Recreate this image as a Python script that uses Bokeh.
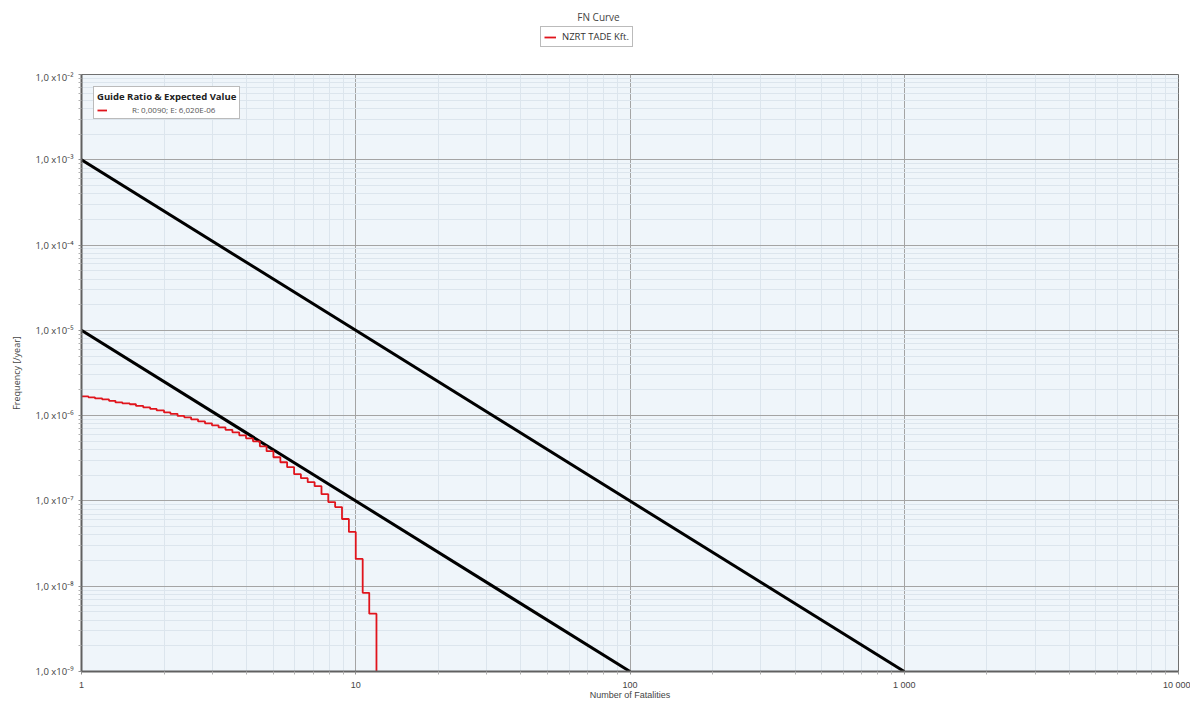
from bokeh.plotting import figure
from bokeh.layouts import column
from bokeh.models import FixedTicker, Legend, LegendItem, Range1d, Label
from bokeh.embed import file_html
from bokeh.resources import INLINE

# FN curve (step function): number of fatalities N and frequency of >= N fatalities per year
fatalities = [1.00, 1.06, 1.12, 1.19, 1.26, 1.33, 1.41, 1.50, 1.58, 1.68,
              1.78, 1.88, 2.00, 2.11, 2.24, 2.37, 2.51, 2.66, 2.82, 2.99,
              3.16, 3.35, 3.55, 3.76, 3.98, 4.22, 4.47, 4.73, 5.01, 5.31,
              5.62, 5.96, 6.31, 6.68, 7.08, 7.50, 7.94, 8.41, 8.91, 9.44,
              10.0, 10.6, 11.2, 11.9]
frequency = [1.68e-6, 1.64e-6, 1.59e-6, 1.55e-6, 1.49e-6, 1.43e-6, 1.39e-6, 1.36e-6, 1.30e-6, 1.25e-6,
             1.20e-6, 1.15e-6, 1.09e-6, 1.05e-6, 9.93e-7, 9.55e-7, 9.05e-7, 8.57e-7, 8.12e-7, 7.69e-7,
             7.29e-7, 6.82e-7, 6.38e-7, 5.88e-7, 5.42e-7, 5.00e-7, 4.37e-7, 3.83e-7, 3.25e-7, 2.84e-7,
             2.49e-7, 2.06e-7, 1.85e-7, 1.66e-7, 1.49e-7, 1.20e-7, 9.70e-8, 8.48e-8, 6.14e-8, 4.33e-8,
             2.09e-8, 8.37e-9, 4.76e-9, 1e-12]

# Guide lines
upper_guide_n = [1, 1000]
upper_guide_f = [1e-3, 1e-9]
lower_guide_n = [1, 100]
lower_guide_f = [1e-5, 1e-9]

x_ticks = [1, 10, 100, 1000, 10000]
x_tick_labels = ["1", "10", "100\nNumber of Fatalities", "1 000", "10 000"]
y_ticks = [1e-9, 1e-8, 1e-7, 1e-6, 1e-5, 1e-4, 1e-3, 1e-2]
y_tick_labels = ["1,0 x10\u207b\u2079", "1,0 x10\u207b\u2078", "1,0 x10\u207b\u2077", "1,0 x10\u207b\u2076",
                 "1,0 x10\u207b\u2075", "1,0 x10\u207b\u2074", "1,0 x10\u207b\u00b3", "1,0 x10\u207b\u00b2"]

chart_title = "FN Curve"
series_name = "NZRT TADE Kft."
legend_title = "Guide Ratio & Expected Value"
legend_entry = "R: 0,0090; E: 6,020E-06"

FONT = "Open Sans"
XFONT = "Liberation Sans"
RED = "#e0141c"
HEADER_H = 70
LEFT = 81
RIGHT = 12
WIDTH = 1190

# ---------- header: title + series legend (frame aligned with the chart's frame) ----------
header = figure(width=WIDTH, height=HEADER_H, x_range=Range1d(LEFT, WIDTH - RIGHT), y_range=Range1d(0, HEADER_H),
                output_backend="svg", toolbar_location=None,
                x_axis_location=None, y_axis_location=None,
                min_border=0, min_border_left=LEFT, min_border_right=RIGHT,
                outline_line_color=None,
                background_fill_color="white", border_fill_color="white")
header.xgrid.visible = False
header.ygrid.visible = False
# same series, lies outside the header's window, only provides the legend glyph
header_line = header.step(fatalities, frequency, mode="after", line_color=RED, line_width=1.8)
header.add_layout(Label(x=598, y=HEADER_H - 16, text=chart_title, text_align="center",
                        text_baseline="middle", text_font=FONT, text_font_size="10px",
                        text_color="#444444"))
top_legend = Legend(items=[LegendItem(label=series_name, renderers=[header_line])],
                    orientation="horizontal", location=(540 - LEFT, HEADER_H - 47),
                    border_line_color="#777777", border_line_width=1,
                    background_fill_color="white", padding=3, margin=0,
                    label_text_font=FONT, label_text_font_size="9.5px", label_text_color="#333333",
                    glyph_width=12, glyph_height=10, label_standoff=6, label_height=12)
header.add_layout(top_legend)

# ---------- main chart ----------
p = figure(width=WIDTH, height=702 - HEADER_H, x_axis_type="log", y_axis_type="log",
           x_range=Range1d(1, 10000), y_range=Range1d(1e-9, 1e-2),
           output_backend="svg", toolbar_location=None,
           min_border_left=LEFT, min_border_right=RIGHT, min_border_top=74 - HEADER_H, min_border_bottom=20,
           background_fill_color="#eff5fa", border_fill_color="white",
           outline_line_color="#707070", outline_line_width=1)

minor_x = [m * 10 ** e for e in range(0, 4) for m in range(2, 10)]
minor_y = [m * 10.0 ** e for e in range(-9, -2) for m in range(2, 10)]

p.xaxis.ticker = FixedTicker(ticks=x_ticks, minor_ticks=minor_x)
p.yaxis.ticker = FixedTicker(ticks=y_ticks, minor_ticks=minor_y)
p.xaxis.major_label_overrides = {t: l for t, l in zip(x_ticks, x_tick_labels)}
p.yaxis.major_label_overrides = {t: l for t, l in zip(y_ticks, y_tick_labels)}

for ax in (p.xaxis, p.yaxis):
    ax.axis_line_color = "#606060"
    ax.axis_line_width = 2
    ax.major_tick_line_color = "#909090"
    ax.minor_tick_line_color = "#b0b0b0"
    ax.major_tick_in = 0
    ax.major_tick_out = 3
    ax.minor_tick_in = 0
    ax.minor_tick_out = 3
    ax.major_label_text_color = "#444444"
    ax.axis_label_text_font = FONT
    ax.axis_label_text_font_size = "9px"
    ax.axis_label_text_font_style = "normal"
    ax.axis_label_text_color = "#444444"

p.xaxis.major_label_text_font = XFONT
p.xaxis.major_label_text_font_size = "9px"
p.xaxis.major_label_text_line_height = 1.0
p.xaxis.major_label_standoff = 5
p.yaxis.major_label_text_font = FONT
p.yaxis.major_label_text_font_size = "9.5px"
p.yaxis.major_label_standoff = 5
p.yaxis.axis_label_standoff = 10
p.yaxis.axis_label = "Frequency [/year]"

p.xgrid.ticker = FixedTicker(ticks=x_ticks, minor_ticks=minor_x)
p.ygrid.ticker = FixedTicker(ticks=y_ticks, minor_ticks=minor_y)
for g in (p.xgrid, p.ygrid):
    g.grid_line_color = "#a4a4a4"
    g.grid_line_width = 1
    g.minor_grid_line_color = "#dce5ed"
    g.minor_grid_line_width = 1

p.line(upper_guide_n, upper_guide_f, line_color="black", line_width=3)
p.line(lower_guide_n, lower_guide_f, line_color="black", line_width=3)
red = p.step(fatalities, frequency, mode="after", line_color=RED, line_width=1.8)

inner_legend = Legend(items=[LegendItem(label=legend_entry, renderers=[red])],
                      location="top_left", margin=12,
                      title=legend_title, title_text_font=FONT, title_text_font_size="9.5px",
                      title_text_font_style="bold", title_text_color="#222222", title_standoff=1,
                      border_line_color="#777777", border_line_width=1,
                      background_fill_color="white", background_fill_alpha=1,
                      padding=3, label_text_font=FONT, label_text_font_size="8px",
                      label_text_color="#555555", glyph_width=10, glyph_height=8, label_standoff=25,
                      label_height=10)
p.add_layout(inner_legend)

layout = column(header, p, spacing=0)
open("out.html", "w").write(file_html(layout, INLINE))
